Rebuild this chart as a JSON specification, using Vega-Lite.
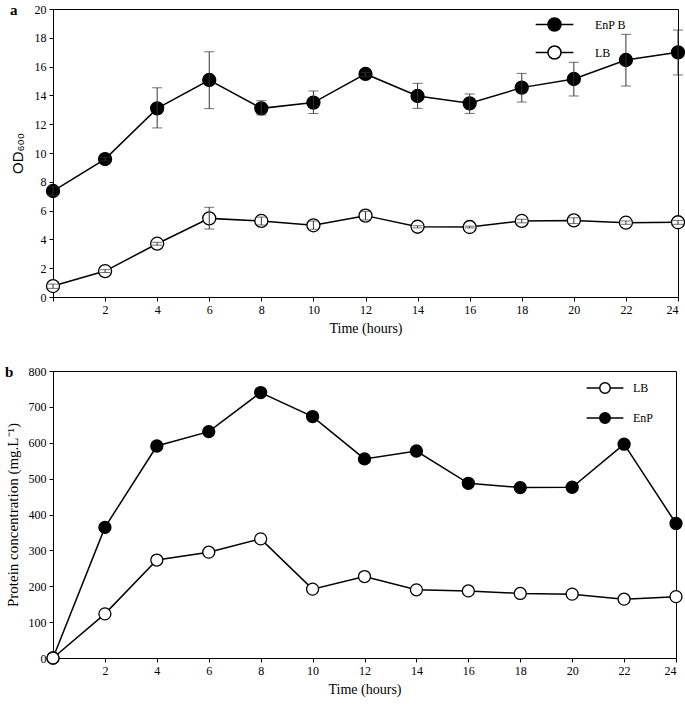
{
  "$schema": "https://vega.github.io/schema/vega-lite/v6.json",
  "padding": {"left": 4, "top": 2, "right": 5, "bottom": 5},
  "background": "white",
  "config": {
    "font": "Liberation Serif",
    "view": {"stroke": "black", "strokeWidth": 1},
    "axis": {"grid": false, "domainColor": "black", "tickColor": "black", "labelColor": "black", "titleColor": "black", "labelFontSize": 12, "titleFontSize": 14, "titleFontWeight": "normal", "tickSize": 4, "labelPadding": 3, "labelFont": "Liberation Serif", "titleFont": "Liberation Serif"},
    "legend": {"orient": "none", "title": null, "padding": 0, "labelFontSize": 12, "labelFont": "Liberation Serif", "labelColor": "black", "symbolStrokeColor": "black", "symbolStrokeWidth": 1.5},
    "title": {"font": "Liberation Serif", "fontWeight": "bold", "fontSize": 15, "color": "black"}
  },
  "datasets": {
    "od": [
      {"time": 0, "series": "EnP B", "value": 7.36, "lo": 7.05, "hi": 7.66},
      {"time": 2, "series": "EnP B", "value": 9.58, "lo": 9.45, "hi": 9.7},
      {"time": 4, "series": "EnP B", "value": 13.1, "lo": 11.74, "hi": 14.53},
      {"time": 6, "series": "EnP B", "value": 15.07, "lo": 13.08, "hi": 17.03},
      {"time": 8, "series": "EnP B", "value": 13.1, "lo": 12.64, "hi": 13.63},
      {"time": 10, "series": "EnP B", "value": 13.5, "lo": 12.75, "hi": 14.3},
      {"time": 12, "series": "EnP B", "value": 15.49, "lo": 15.3, "hi": 15.6},
      {"time": 14, "series": "EnP B", "value": 13.96, "lo": 13.1, "hi": 14.84},
      {"time": 16, "series": "EnP B", "value": 13.45, "lo": 12.75, "hi": 14.1},
      {"time": 18, "series": "EnP B", "value": 14.54, "lo": 13.54, "hi": 15.53},
      {"time": 20, "series": "EnP B", "value": 15.14, "lo": 13.96, "hi": 16.3},
      {"time": 22, "series": "EnP B", "value": 16.46, "lo": 14.65, "hi": 18.24},
      {"time": 24, "series": "EnP B", "value": 16.99, "lo": 15.42, "hi": 18.54},
      {"time": 0, "series": "LB", "value": 0.76, "lo": 0.6, "hi": 0.9},
      {"time": 2, "series": "LB", "value": 1.8, "lo": 1.7, "hi": 1.9},
      {"time": 4, "series": "LB", "value": 3.7, "lo": 3.6, "hi": 3.8},
      {"time": 6, "series": "LB", "value": 5.46, "lo": 4.72, "hi": 6.23},
      {"time": 8, "series": "LB", "value": 5.28, "lo": 5.0, "hi": 5.55},
      {"time": 10, "series": "LB", "value": 4.98, "lo": 4.7, "hi": 5.28},
      {"time": 12, "series": "LB", "value": 5.65, "lo": 5.35, "hi": 5.95},
      {"time": 14, "series": "LB", "value": 4.88, "lo": 4.8, "hi": 4.95},
      {"time": 16, "series": "LB", "value": 4.86, "lo": 4.8, "hi": 4.92},
      {"time": 18, "series": "LB", "value": 5.28, "lo": 5.15, "hi": 5.4},
      {"time": 20, "series": "LB", "value": 5.32, "lo": 5.1, "hi": 5.5},
      {"time": 22, "series": "LB", "value": 5.16, "lo": 5.05, "hi": 5.28},
      {"time": 24, "series": "LB", "value": 5.19, "lo": 5.05, "hi": 5.32}
    ],
    "protein": [
      {"time": 0, "series": "EnP", "value": 0},
      {"time": 2, "series": "EnP", "value": 364},
      {"time": 4, "series": "EnP", "value": 591},
      {"time": 6, "series": "EnP", "value": 631},
      {"time": 8, "series": "EnP", "value": 740},
      {"time": 10, "series": "EnP", "value": 673},
      {"time": 12, "series": "EnP", "value": 555},
      {"time": 14, "series": "EnP", "value": 577},
      {"time": 16, "series": "EnP", "value": 487},
      {"time": 18, "series": "EnP", "value": 475},
      {"time": 20, "series": "EnP", "value": 476},
      {"time": 22, "series": "EnP", "value": 596},
      {"time": 24, "series": "EnP", "value": 375},
      {"time": 0, "series": "LB", "value": 0},
      {"time": 2, "series": "LB", "value": 123},
      {"time": 4, "series": "LB", "value": 273},
      {"time": 6, "series": "LB", "value": 295},
      {"time": 8, "series": "LB", "value": 332},
      {"time": 10, "series": "LB", "value": 192},
      {"time": 12, "series": "LB", "value": 227},
      {"time": 14, "series": "LB", "value": 190},
      {"time": 16, "series": "LB", "value": 187},
      {"time": 18, "series": "LB", "value": 180},
      {"time": 20, "series": "LB", "value": 178},
      {"time": 22, "series": "LB", "value": 164},
      {"time": 24, "series": "LB", "value": 171}
    ]
  },
  "spacing": 28,
  "vconcat": [
    {
      "width": 625,
      "height": 288,
      "title": {"text": "a", "orient": "top", "anchor": "start", "frame": "bounds", "baseline": "top", "offset": -15},
      "data": {"name": "od"},
      "encoding": {
        "x": {"field": "time", "type": "quantitative", "scale": {"domain": [0, 24], "nice": false}, "axis": {"values": [0, 2, 4, 6, 8, 10, 12, 14, 16, 18, 20, 22, 24], "labelExpr": "datum.value == 0 ? '' : datum.label", "title": "Time (hours)", "titlePadding": 6}}
      },
      "layer": [
        {
          "mark": {"type": "line", "color": "black", "strokeWidth": 1.5},
          "encoding": {
            "y": {"field": "value", "type": "quantitative", "scale": {"domain": [0, 20], "nice": false}, "axis": {"values": [0, 2, 4, 6, 8, 10, 12, 14, 16, 18, 20], "title": "OD₆₀₀", "titleFont": "Liberation Sans", "titleFontSize": 15, "titlePadding": 9}},
            "detail": {"field": "series"}
          }
        },
        {
          "mark": {"type": "point", "filled": true, "size": 169, "stroke": "black", "strokeWidth": 1.3, "opacity": 1},
          "encoding": {
            "y": {"field": "value", "type": "quantitative", "scale": {"domain": [0, 20], "nice": false}, "axis": {"values": [0, 2, 4, 6, 8, 10, 12, 14, 16, 18, 20], "title": "OD₆₀₀", "titleFont": "Liberation Sans", "titleFontSize": 15, "titlePadding": 9}},
            "fill": {"field": "series", "type": "nominal", "scale": {"domain": ["EnP B", "LB"], "range": ["black", "white"]},
              "legend": {"legendX": 494, "legendY": 8, "symbolSize": 169, "rowPadding": 9, "labelOffset": 33, "symbolType": "M-2.9,0L-1,0M1,0L2.9,0M1,0A1,1,0,1,1,-1,0A1,1,0,1,1,1,0Z"}}
          }
        },
        {
          "mark": {"type": "errorbar", "ticks": {"size": 10, "color": "#333"}, "rule": {"color": "#333"}, "thickness": 1},
          "encoding": {
            "y": {"field": "lo", "type": "quantitative", "scale": {"domain": [0, 20], "nice": false}, "axis": {"values": [0, 2, 4, 6, 8, 10, 12, 14, 16, 18, 20], "title": "OD₆₀₀", "titleFont": "Liberation Sans", "titleFontSize": 15, "titlePadding": 9}},
            "y2": {"field": "hi"}
          }
        }
      ]
    },
    {
      "width": 623,
      "height": 287,
      "title": {"text": "b", "orient": "top", "anchor": "start", "frame": "bounds", "baseline": "top", "offset": -15},
      "data": {"name": "protein"},
      "encoding": {
        "x": {"field": "time", "type": "quantitative", "scale": {"domain": [0, 24], "nice": false}, "axis": {"values": [0, 2, 4, 6, 8, 10, 12, 14, 16, 18, 20, 22, 24], "labelExpr": "datum.value == 0 ? '' : datum.label", "title": "Time (hours)", "titlePadding": 6}},
        "y": {"field": "value", "type": "quantitative", "scale": {"domain": [0, 800], "nice": false}, "axis": {"values": [0, 100, 200, 300, 400, 500, 600, 700, 800], "title": "Protein concentration (mg.L⁻¹)", "titleFontSize": 15, "titlePadding": 8}}
      },
      "layer": [
        {
          "mark": {"type": "line", "color": "black", "strokeWidth": 1.5},
          "encoding": {"detail": {"field": "series"}}
        },
        {
          "mark": {"type": "point", "filled": true, "size": 144, "stroke": "black", "strokeWidth": 1.3, "opacity": 1},
          "encoding": {
            "fill": {"field": "series", "type": "nominal", "scale": {"domain": ["LB", "EnP"], "range": ["white", "black"]},
              "legend": {"legendX": 546, "legendY": 11, "symbolSize": 110, "rowPadding": 12, "labelOffset": 22, "symbolType": "M-3.5,0L-1,0M1,0L3.5,0M1,0A1,1,0,1,1,-1,0A1,1,0,1,1,1,0Z"}}
          }
        }
      ]
    }
  ],
  "resolve": {"scale": {"fill": "independent"}, "legend": {"fill": "independent"}}
}
